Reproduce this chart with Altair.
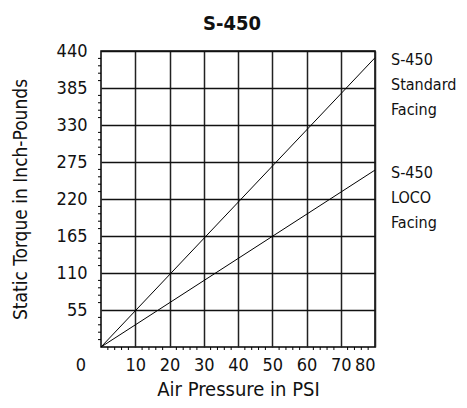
import altair as alt
import pandas as pd

FONT = "'Liberation Sans Narrow', 'DejaVu Sans Condensed', 'Roboto Condensed', 'Arial Narrow', Roboto, sans-serif"

psi = [0, 80]
standard = [0, 430]
loco = [0, 263]
x_ticks = [10, 20, 30, 40, 50, 60, 70, 80]
y_ticks = [55, 110, 165, 220, 275, 330, 385, 440]
x_minor = [2, 4, 6, 8, 12, 14, 16, 18, 22, 24, 26, 28, 32, 34, 36, 38, 42, 44, 46, 48,
           52, 54, 56, 58, 62, 64, 66, 68, 72, 74, 76, 78]
y_minor = [11, 22, 33, 44, 66, 77, 88, 99, 121, 132, 143, 154, 176, 187, 198, 209,
           231, 242, 253, 264, 286, 297, 308, 319, 341, 352, 363, 374, 396, 407, 418, 429]
labels = ["S-450\nStandard\nFacing", "S-450\nLOCO\nFacing"]
label_y = [427, 258]

lines = pd.DataFrame({
    "psi": psi + psi,
    "torque": standard + loco,
    "series": ["Standard"] * 2 + ["LOCO"] * 2,
})

xs = alt.Scale(domain=[0, 80], nice=False, zero=True)
ys = alt.Scale(domain=[0, 440], nice=False, zero=True)

x_axis = alt.Axis(values=x_ticks, grid=True, gridColor="#222", gridWidth=1.5,
                  domain=False, ticks=False, labelPadding=9, labelOverlap=False,
                  labelFont=FONT, labelFontSize=18, labelColor="#111",
                  titleFont=FONT, titleFontSize=20, titleFontWeight="normal",
                  titleColor="#111", titlePadding=5)
y_axis = alt.Axis(values=y_ticks, grid=True, gridColor="#111", gridWidth=1.5,
                  domain=False, ticks=False, labelPadding=14, labelOverlap=False,
                  labelFont=FONT, labelFontSize=18, labelColor="#111",
                  titleFont=FONT, titleFontSize=19, titleFontWeight="normal",
                  titleColor="#111", titlePadding=26)
X_TITLE = "Air Pressure in PSI"
Y_TITLE = "Static Torque in Inch-Pounds"


def X(field):
    return alt.X(field, scale=xs, axis=x_axis, title=X_TITLE)


def Y(field):
    return alt.Y(field, scale=ys, axis=y_axis, title=Y_TITLE)


line_layer = alt.Chart(lines).mark_line(color="black", strokeWidth=1).encode(
    x=X("psi:Q"), y=Y("torque:Q"), detail="series:N")

ym = alt.Chart(pd.DataFrame({"v": y_minor})).mark_rule(color="black", strokeWidth=1).encode(
    y=Y("v:Q"), x=alt.value(-3), x2=alt.value(0))
xm = alt.Chart(pd.DataFrame({"v": x_minor})).mark_rule(color="black", strokeWidth=1).encode(
    x=X("v:Q"), y=alt.value(296), y2=alt.value(299))

zero = alt.Chart(pd.DataFrame({"x": [0], "y": [0], "t": ["0"]})).mark_text(
    font=FONT, fontSize=18, color="#111", dx=-20, dy=19, align="center", baseline="middle"
).encode(x=X("x:Q"), y=Y("y:Q"), text="t:N")

lab = alt.Chart(pd.DataFrame({"x": [80, 80], "y": label_y, "t": labels})).mark_text(
    font=FONT, fontSize=16, color="#111", dx=16, align="left", baseline="middle",
    lineBreak="\n", lineHeight=25
).encode(x=X("x:Q"), y=Y("y:Q"), text="t:N")

chart = alt.layer(line_layer, ym, xm, zero, lab).properties(
    width=274, height=296,
    background="white",
    title=alt.TitleParams("S-450", font=FONT, fontSize=20, fontWeight="bold",
                          anchor="middle", offset=8, dx=-6, color="#111"),
    autosize=alt.AutoSizeParams(type="none"),
    padding={"left": 93, "top": 43, "right": 84, "bottom": 53},
).configure_view(stroke="black", strokeWidth=1.5)

chart.save("out.html", embed_options={"renderer": "svg", "actions": False})
